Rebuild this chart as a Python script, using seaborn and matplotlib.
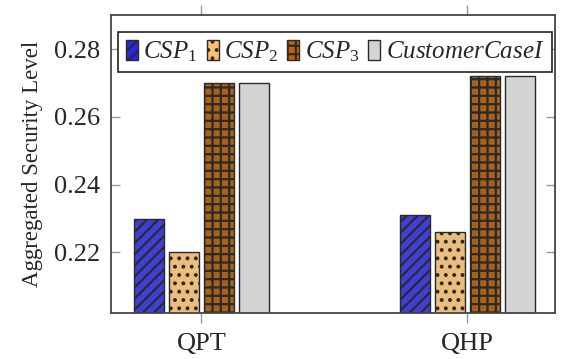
import matplotlib
matplotlib.use("Agg")
import matplotlib.pyplot as plt
import seaborn as sns
import pandas as pd
from matplotlib.patches import Patch

# Aggregated security level per service provider and query method
methods = ["QPT", "QHP"]
series = ["$CSP_1$", "$CSP_2$", "$CSP_3$", "$CustomerCaseI$"]
csp1 = [0.230, 0.231]
csp2 = [0.220, 0.226]
csp3 = [0.270, 0.272]
customer = [0.270, 0.272]
yticks = [0.22, 0.24, 0.26, 0.28]

colors = ["#2626f0", "#ffbf6b", "#c26200", "#d4d4d4"]
hatches = ["///", "..", "++", ""]

rows = []
for name, vals in zip(series, [csp1, csp2, csp3, customer]):
    for m, v in zip(methods, vals):
        rows.append({"method": m, "series": name, "value": v})
df = pd.DataFrame(rows)

sns.set_style("white")
plt.rcParams["font.family"] = ["Liberation Serif", "DejaVu Serif"]
plt.rcParams["mathtext.fontset"] = "custom"
plt.rcParams["mathtext.rm"] = "Liberation Serif"
plt.rcParams["mathtext.it"] = "Liberation Serif:italic"
plt.rcParams["hatch.linewidth"] = 1.6
plt.rcParams["hatch.color"] = "black"

fig = plt.figure(figsize=(5.61, 3.59), dpi=100)
ax = fig.add_axes([0.1979, 0.1281, 0.7914, 0.8301])

sns.barplot(data=df, x="method", y="value", hue="series", order=methods,
            hue_order=series, palette=colors, width=0.526, gap=0.14,
            edgecolor="#2a2a2a", linewidth=1.0, legend=False, ax=ax)

for cont, h in zip(ax.containers, hatches):
    for bar in cont:
        bar.set_hatch(h)

ax.set_xlim(-0.34, 1.33)
ax.set_ylim(0.2021, 0.2901)
ax.set_yticks(yticks)
ax.set_yticklabels([f"{t:.2f}" for t in yticks])
ax.set_xlabel("")
ax.set_ylabel("Aggregated Security Level", fontsize=16.5, labelpad=8)

for s in ax.spines.values():
    s.set_visible(True)
    s.set_color("#444444")
    s.set_linewidth(1.3)

ax.tick_params(axis="y", which="both", direction="in", length=6.5, width=1,
               color="#999999", left=True, right=True, labelsize=19, pad=8)
ax.tick_params(axis="x", which="both", direction="out", length=7.5, width=1,
               color="#999999", bottom=True, top=True, labelsize=19, pad=7)

handles = [Patch(facecolor=c, edgecolor="#2a2a2a", hatch=h, linewidth=1.0)
           for c, h in zip(colors, hatches)]
leg = ax.legend(handles, series, ncol=4, loc="upper center",
                bbox_to_anchor=(0.505, 0.943), fontsize=18, frameon=True,
                fancybox=False, framealpha=1, edgecolor="#222222",
                handlelength=0.48, handleheight=0.85, handletextpad=0.22,
                columnspacing=0.36, borderpad=0.3, borderaxespad=0)
leg.get_frame().set_linewidth(1.2)

fig.savefig("out.png", dpi=100)
